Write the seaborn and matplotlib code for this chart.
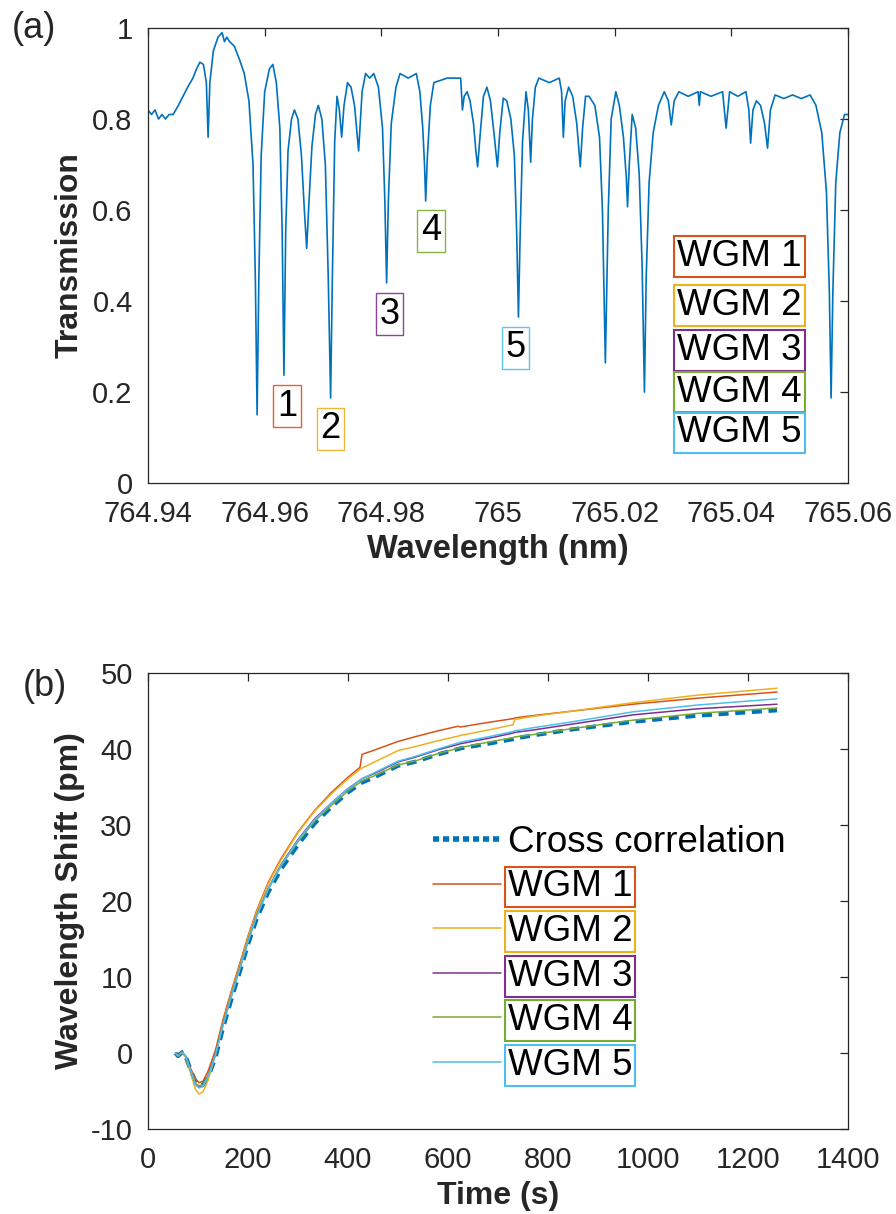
import numpy as np
import pandas as pd
import seaborn as sns
import matplotlib.pyplot as plt
from matplotlib.lines import Line2D
from matplotlib.ticker import FuncFormatter

sns.set_style('white')
plt.rcParams['font.family'] = ['Liberation Sans', 'DejaVu Sans']

# --- (a) transmission spectrum ---
wavelength = [
    764.9400, 764.9406, 764.9412, 764.9418, 764.9424, 764.9430, 764.9436, 764.9443,
    764.9452, 764.9460, 764.9468, 764.9477, 764.9483, 764.9489, 764.9495,
    764.9500, 764.9503, 764.9506, 764.9512, 764.9520, 764.9527, 764.9531, 764.9535, 764.9540,
    764.9548, 764.9557, 764.9565, 764.9573, 764.9580, 764.9584, 764.9587, 764.9590,
    764.9594, 764.9600, 764.9608, 764.9614, 764.9620, 764.9626, 764.9630, 764.9633,
    764.9636, 764.9640, 764.9646, 764.9651, 764.9657, 764.9663, 764.9668, 764.9672,
    764.9676, 764.9681, 764.9687, 764.9692, 764.9698, 764.9704, 764.9709, 764.9713,
    764.9716, 764.9720, 764.9724, 764.9728, 764.9732, 764.9736, 764.9742, 764.9748,
    764.9754, 764.9761, 764.9767, 764.9773, 764.9780, 764.9787, 764.9795, 764.9802, 764.9806,
    764.9809, 764.9812, 764.9817, 764.9825, 764.9832, 764.9846, 764.9860, 764.9866, 764.9871,
    764.9874, 764.9876, 764.9879, 764.9884, 764.9890, 764.9913, 764.9936, 764.9939, 764.9942,
    764.9947, 764.9952, 764.9958, 764.9962, 764.9965, 764.9969, 764.9975, 764.9981,
    764.9987, 764.9993, 764.9999, 765.0003, 765.0009, 765.0015, 765.0022, 765.0028,
    765.0032, 765.0035, 765.0038, 765.0042, 765.0048, 765.0052, 765.0056, 765.0059,
    765.0064, 765.0070, 765.0088, 765.0105, 765.0109, 765.0112, 765.0115, 765.0121, 765.0128,
    765.0135, 765.0141, 765.0145, 765.0150, 765.0156, 765.0166, 765.0174, 765.0179,
    765.0182, 765.0184, 765.0186, 765.0189, 765.0194, 765.0202, 765.0208, 765.0215,
    765.0220, 765.0222, 765.0225, 765.0230, 765.0236, 765.0242, 765.0247, 765.0251,
    765.0254, 765.0259, 765.0266, 765.0275, 765.0285, 765.0292, 765.0297, 765.0302,
    765.0310, 765.0326, 765.0343, 765.0345, 765.0347, 765.0365, 765.0385, 765.0391, 765.0397,
    765.0411, 765.0425, 765.0430, 765.0433, 765.0437, 765.0443, 765.0450, 765.0457, 765.0462,
    765.0467, 765.0475, 765.0490, 765.0505, 765.0520, 765.0535, 765.0545, 765.0555, 765.0563,
    765.0568, 765.0571, 765.0574, 765.0579, 765.0586, 765.0594, 765.0600,
]
transmission = [
    0.82, 0.81, 0.82, 0.80, 0.81, 0.80, 0.81, 0.81,
    0.83, 0.85, 0.87, 0.89, 0.91, 0.925, 0.92,
    0.88, 0.76, 0.88, 0.95, 0.98, 0.99, 0.97, 0.98, 0.97,
    0.96, 0.93, 0.90, 0.84, 0.70, 0.45, 0.15, 0.45,
    0.72, 0.86, 0.91, 0.92, 0.88, 0.78, 0.55, 0.237,
    0.55, 0.73, 0.80, 0.82, 0.80, 0.72, 0.60, 0.516,
    0.62, 0.74, 0.81, 0.83, 0.80, 0.70, 0.45, 0.187,
    0.45, 0.75, 0.85, 0.82, 0.76, 0.83, 0.88, 0.87,
    0.83, 0.73, 0.86, 0.90, 0.89, 0.90, 0.87, 0.78, 0.62,
    0.44, 0.62, 0.79, 0.87, 0.90, 0.89, 0.90, 0.86, 0.78,
    0.70, 0.62, 0.72, 0.83, 0.88, 0.89, 0.89, 0.82, 0.85,
    0.86, 0.84, 0.79, 0.73, 0.695, 0.76, 0.85, 0.87,
    0.84, 0.77, 0.695, 0.77, 0.846, 0.84, 0.80, 0.72,
    0.55, 0.365, 0.55, 0.75, 0.86, 0.82, 0.705, 0.80,
    0.87, 0.89, 0.88, 0.89, 0.86, 0.76, 0.84, 0.87, 0.85,
    0.79, 0.695, 0.78, 0.85, 0.85, 0.83, 0.76, 0.60,
    0.40, 0.264, 0.40, 0.60, 0.80, 0.86, 0.83, 0.76,
    0.67, 0.607, 0.70, 0.81, 0.78, 0.68, 0.48, 0.20,
    0.45, 0.66, 0.77, 0.83, 0.86, 0.84, 0.787, 0.84,
    0.86, 0.85, 0.86, 0.83, 0.86, 0.85, 0.86, 0.78, 0.86,
    0.85, 0.86, 0.82, 0.747, 0.82, 0.84, 0.83, 0.79, 0.736,
    0.82, 0.853, 0.845, 0.853, 0.845, 0.853, 0.83, 0.77, 0.64,
    0.42, 0.187, 0.42, 0.66, 0.77, 0.81, 0.81,
]

mode_numbers = ['1', '2', '3', '4', '5']
mode_names = ['WGM 1', 'WGM 2', 'WGM 3', 'WGM 4', 'WGM 5']

# --- (b) wavelength shift vs time ---
time_s = [55, 60, 68, 75, 85, 95, 102, 110, 120, 135,
          150, 170, 185, 200, 217, 240, 267, 300, 333, 367,
          400, 424, 428, 450, 500, 533, 580, 620, 625, 680,
          730, 734, 770, 850, 970, 1100, 1258]
cross_corr = [0.0, -0.4, 0.1, -0.4, -2.2, -3.8, -4.3, -4.2, -3.2, -0.6,
              3.3, 7.8, 11.0, 14.3, 17.6, 21.1, 24.3, 27.4, 30.2, 32.4,
              34.3, 35.4, 35.6, 36.2, 37.8, 38.3, 39.3, 40.0, 40.1, 40.7,
              41.3, 41.4, 41.8, 42.6, 43.6, 44.4, 45.1]
wgm1 = [0.0, -0.4, 0.1, -0.4, -2.0, -3.4, -3.9, -3.7, -2.4, 0.4,
        4.4, 8.9, 12.1, 15.4, 18.7, 22.4, 25.7, 29.1, 31.9, 34.3,
        36.3, 37.6, 39.3, 39.8, 41.0, 41.6, 42.4, 43.0, 42.9, 43.5,
        44.0, 44.1, 44.4, 45.0, 45.9, 46.7, 47.5]
wgm2 = [0.0, -0.4, 0.1, -0.5, -2.6, -4.8, -5.4, -5.1, -3.6, -0.2,
        4.0, 8.6, 11.8, 15.2, 18.5, 22.2, 25.5, 29.0, 31.8, 34.1,
        36.1, 37.3, 37.5, 38.2, 39.8, 40.3, 41.1, 41.7, 41.8, 42.5,
        43.2, 43.9, 44.3, 45.0, 46.1, 47.1, 48.0]
wgm3 = [0.0, -0.4, 0.1, -0.4, -2.3, -4.1, -4.5, -4.3, -3.0, -0.1,
        3.8, 8.3, 11.5, 14.8, 18.1, 21.6, 24.9, 28.1, 30.8, 32.9,
        34.8, 35.9, 36.1, 36.7, 38.3, 38.9, 39.9, 40.6, 40.7, 41.4,
        42.1, 42.2, 42.5, 43.3, 44.5, 45.3, 45.9]
wgm4 = [0.0, -0.4, 0.1, -0.4, -2.2, -4.0, -4.3, -4.2, -3.0, -0.2,
        3.7, 8.2, 11.4, 14.7, 18.0, 21.5, 24.7, 27.8, 30.5, 32.6,
        34.5, 35.6, 35.8, 36.4, 37.9, 38.4, 39.4, 40.1, 40.2, 40.9,
        41.5, 41.6, 41.9, 42.7, 43.8, 44.7, 45.4]
wgm5 = [0.0, -0.4, 0.1, -0.4, -2.3, -4.2, -4.6, -4.4, -3.1, -0.2,
        3.7, 8.2, 11.4, 14.7, 18.0, 21.5, 24.8, 28.0, 30.7, 32.9,
        34.8, 35.9, 36.1, 36.8, 38.4, 39.0, 40.0, 40.8, 40.9, 41.6,
        42.3, 42.4, 42.8, 43.6, 44.9, 45.8, 46.6]

# MATLAB default colours
BLUE = '#0072BD'
wgm_colors = ['#D95319', '#EDB120', '#7E2F8E', '#77AC30', '#4DBEEE']
AXC = '#262626'

fig = plt.figure(figsize=(8.96, 12.14), dpi=100)
ax1 = fig.add_axes([0.1652, 0.6021, 0.78125, 0.3748])
ax2 = fig.add_axes([0.1652, 0.0700, 0.78125, 0.3756])

gfmt = FuncFormatter(lambda v, p: f'{v:g}')


def style_axes(ax):
    for s in ax.spines.values():
        s.set_color(AXC)
        s.set_linewidth(0.9)
        s.set_visible(True)
    ax.tick_params(direction='in', top=True, right=True, length=6, width=0.9,
                   color=AXC, labelcolor=AXC, labelsize=21)
    ax.tick_params(axis='x', pad=12)
    ax.tick_params(axis='y', pad=11)
    ax.xaxis.set_major_formatter(gfmt)
    ax.yaxis.set_major_formatter(gfmt)
    ax.grid(False)


# --- panel (a) ---
spec = pd.DataFrame({'wl': wavelength, 'T': transmission})
sns.lineplot(data=spec, x='wl', y='T', ax=ax1, color=BLUE, lw=1.2, estimator=None)
ax1.set_xlim(764.94, 765.06)
ax1.set_ylim(0, 1)
ax1.set_xticks(np.arange(764.94, 765.0601, 0.02))
ax1.set_yticks(np.arange(0, 1.01, 0.2))
style_axes(ax1)
ax1.set_xlabel('Wavelength (nm)', fontsize=23.5, fontweight='bold', color=AXC)
ax1.set_ylabel('Transmission', fontsize=23, fontweight='bold', color=AXC)
ax1.xaxis.set_label_coords(0.5, -0.112)
ax1.yaxis.set_label_coords(-0.09, 0.5)

num_pos = [(764.9638, 0.169), (764.9713, 0.119), (764.9814, 0.371),
           (764.9885, 0.554), (765.0030, 0.297)]
for txt, (x, y), c in zip(mode_numbers, num_pos, wgm_colors):
    ax1.text(x, y, txt, fontsize=26, ha='center', va='center', color='black',
             bbox=dict(boxstyle='square,pad=0.1', fc='white', ec=c, lw=1.0, alpha=0.9))

stack_y = [0.497, 0.391, 0.292, 0.200, 0.110]
for txt, y, c in zip(mode_names, stack_y, wgm_colors):
    ax1.text(765.0414, y, txt, fontsize=26.5, ha='center', va='center', color='black',
             bbox=dict(boxstyle='square,pad=0.08', fc='white', ec=c, lw=1.5))

# --- panel (b) ---
shift = pd.DataFrame({'t': time_s, 'cc': cross_corr, 'w1': wgm1, 'w2': wgm2,
                      'w3': wgm3, 'w4': wgm4, 'w5': wgm5})
sns.lineplot(data=shift, x='t', y='cc', ax=ax2, color=BLUE, lw=3, estimator=None)
ax2.lines[-1].set_dashes((2.4, 1.6))
for col, c in zip(['w1', 'w2', 'w3', 'w4', 'w5'], wgm_colors):
    sns.lineplot(data=shift, x='t', y=col, ax=ax2, color=c, lw=1.1, estimator=None)

ax2.set_xlim(0, 1400)
ax2.set_ylim(-10, 50)
ax2.set_xticks(range(0, 1401, 200))
ax2.set_yticks(range(-10, 51, 10))
style_axes(ax2)
ax2.set_xlabel('Time (s)', fontsize=23, fontweight='bold', color=AXC)
ax2.set_ylabel('Wavelength Shift (pm)', fontsize=23, fontweight='bold', color=AXC)
ax2.xaxis.set_label_coords(0.5, -0.114)
ax2.yaxis.set_label_coords(-0.09, 0.5)

handles = [Line2D([], [], color=BLUE, lw=4, dashes=(1.1, 0.7))]
handles += [Line2D([], [], color=c, lw=1.1) for c in wgm_colors]
labels = ['Cross correlation'] + mode_names
leg = ax2.legend(handles, labels, loc='upper left', bbox_to_anchor=(0.407, 0.667),
                 frameon=False, fontsize=26.5, handlelength=1.85, handletextpad=0.18,
                 labelspacing=0.26, borderaxespad=0, borderpad=0, labelcolor='black')
for t, c in zip(leg.get_texts()[1:], wgm_colors):
    t.set_bbox(dict(boxstyle='square,pad=0.08', fc='white', ec=c, lw=1.5))

fig.text(12 / 896, 1 - 11 / 1214, '(a)', fontsize=26, ha='left', va='top')
fig.text(23 / 896, 1 - 669 / 1214, '(b)', fontsize=26, ha='left', va='top')

fig.savefig('out.png', dpi=100)
